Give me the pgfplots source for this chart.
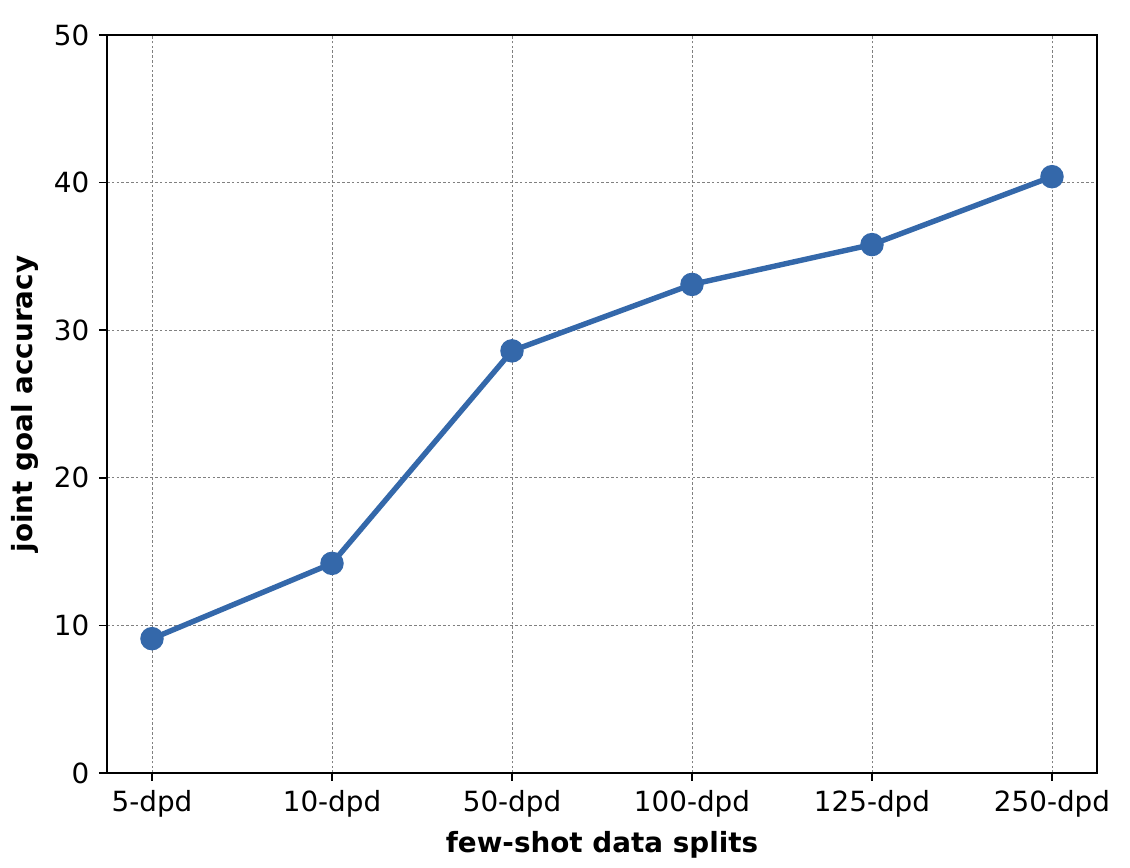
\documentclass[border=0pt]{standalone}
\usepackage{fontspec}
\setmainfont{DejaVu Sans}
\usepackage{pgfplots}
\pgfplotsset{compat=1.18}
\definecolor{lineblue}{HTML}{3468AA}
\begin{document}
\fontsize{13.9}{16}\selectfont
\begin{tikzpicture}
\begin{axis}[
  scale only axis,
  width=495pt, height=369pt,
  xmin=-0.25, xmax=5.25,
  ymin=0, ymax=50,
  xtick={0,1,2,3,4,5},
  xticklabels={5-dpd,10-dpd,50-dpd,100-dpd,125-dpd,250-dpd},
  ytick={0,10,20,30,40,50},
  /pgf/number format/assume math mode=true,
  tick label style={font=\fontsize{13.9}{16}\selectfont},
  label style={font=\fontsize{13.9}{16}\selectfont\bfseries},
  xlabel={few-shot data splits},
  ylabel={joint goal accuracy},
  axis line style={line width=0.8pt},
  tick style={line width=0.8pt, black},
  tick align=outside,
  major tick length=4pt,
  xtick pos=bottom, ytick pos=left,
  grid=major,
  major grid style={dash pattern=on 1.3pt off 1.1pt, gray, line width=0.3pt},
  xlabel style={at={(axis description cs:0.5,-0.0976)}, anchor=center},
  ylabel style={at={(axis description cs:-0.0828,0.5)}, anchor=center},
]
\addplot[color=lineblue, line width=2.7pt, mark=*, mark size=4.5pt, mark options={solid, fill=lineblue, draw=lineblue}] coordinates {
(0,9.1) (1,14.2) (2,28.6) (3,33.1) (4,35.8) (5,40.4)
};
\end{axis}
\pgfresetboundingbox
\path ([xshift=-53.5pt,yshift=-47.5pt]current axis.south west) rectangle ([xshift=16.5pt,yshift=17.5pt]current axis.north east);
\end{tikzpicture}
\end{document}
